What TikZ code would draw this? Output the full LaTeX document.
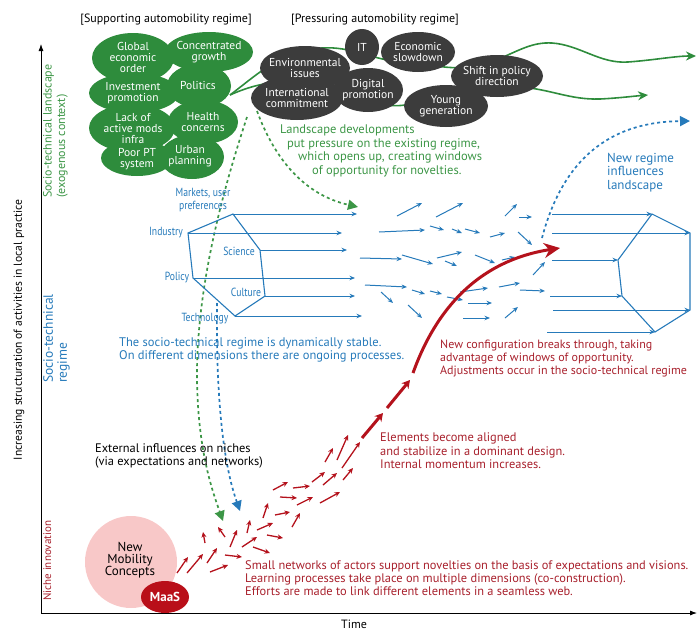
\documentclass[tikz,border=0pt]{standalone}
\usepackage{fontspec}
\setmainfont{PT Sans}
\newfontfamily\narrowfont[FakeStretch=0.82]{PT Sans}
\usetikzlibrary{arrows.meta,shapes.geometric}
\definecolor{ellgreen}{RGB}{46,140,60}
\definecolor{txtgreen}{RGB}{60,150,70}
\definecolor{dkell}{RGB}{60,60,60}
\definecolor{rblue}{RGB}{38,122,186}
\definecolor{nred}{RGB}{168,32,44}
\definecolor{arred}{RGB}{180,18,28}
\definecolor{pinkc}{RGB}{248,200,200}
\definecolor{maasred}{RGB}{185,15,25}
\begin{document}
\begin{tikzpicture}[x=1pt,y=-1pt,
  elltext/.style={text=white, align=center, inner sep=0pt, font=\fontsize{11.5}{11}\selectfont},
  axisline/.style={black, line width=0.8pt, -{Latex[length=7pt,width=5pt]}},
  barrow/.style={rblue, line width=1pt, -{Stealth[length=5.5pt,width=4.5pt]}},
  hexline/.style={rblue, line width=1.1pt},
  rarrow/.style={arred, line width=1.3pt, -{Stealth[length=5.5pt,width=5pt]}},
  bigred/.style={arred, line width=3pt, -{Stealth[length=8pt,width=9pt]}},
  gwave/.style={ellgreen, line width=1.6pt, -{Stealth[length=10pt,width=9pt]}},
  gdash/.style={txtgreen, line width=1.7pt, dash pattern=on 3pt off 3pt, -{Triangle[length=10pt,width=10pt]}},
  bdash/.style={rblue, line width=1.7pt, dash pattern=on 3pt off 3pt, -{Triangle[length=10pt,width=10pt]}},
  lbl/.style={inner sep=0pt, align=left},
]
\useasboundingbox (0,0) rectangle (697,630);

% headers
\node[lbl, font=\fontsize{12}{13}\selectfont] (hsup) at (166,20) {[Supporting automobility regime]};
\node[lbl, font=\fontsize{12}{13}\selectfont] (hpre) at (375,20) {[Pressuring automobility regime]};

% axes
\coordinate (orig) at (41,613);
\coordinate (ytop) at (41,44);
\coordinate (xend) at (697,613);
\draw[axisline] (orig) -- (ytop);
\draw[axisline] (orig) -- (xend);
\node[lbl, font=\fontsize{12}{13}\selectfont] (time) at (354,624) {Time};

% left labels
\node[lbl, rotate=90, font=\fontsize{11.6}{13}\selectfont] (ylab) at (19,330) {Increasing structuration of activities in local practice};
\node[lbl, rotate=90, anchor=north west, text=txtgreen, font=\fontsize{12}{13.5}\selectfont] (llands) at (43,198) {Socio-technical landscape\\(exogenous context)};
\node[lbl, rotate=90, anchor=north west, text=rblue, font=\fontsize{13.5}{14}\selectfont] (lreg) at (43,383) {Socio-technical\\regime};
\node[lbl, rotate=90, anchor=north west, text=nred, font=\fontsize{11}{13}\selectfont] (lniche) at (43,601) {Niche innovation};

% green wavy arrows (behind ellipses)
\coordinate (gstart) at (230,95);
\coordinate (gend1) at (696,56);
\coordinate (gend2) at (648,95);
\draw[gwave] (gstart) .. controls (258,74) and (282,50) .. (322,48)
  .. controls (352,46) and (372,60) .. (402,62)
  .. controls (432,64) and (462,74) .. (492,62)
  .. controls (520,50) and (532,42) .. (552,43)
  .. controls (580,45) and (600,64) .. (628,62)
  .. controls (655,60) and (675,56) .. (gend1);
\draw[gwave] (gstart) .. controls (250,86) and (272,80) .. (300,82)
  .. controls (340,86) and (372,110) .. (405,105)
  .. controls (440,100) and (482,84) .. (520,87)
  .. controls (550,89) and (570,100) .. (600,99)
  .. controls (620,98) and (635,96) .. (gend2);

% dark ellipses
\foreach \x/\y/\w/\h in {362/47/34/36, 418/52/74/40, 305/68/90/44, 297/98/92/44, 368/90/70/44, 497/76/92/42, 446/106/84/42}
  \fill[dkell] (\x,\y) ellipse ({\w/2} and {\h/2});
\node[elltext] (eIT) at (362,47) {IT};
\node[elltext] (eEco) at (418,52) {Economic\\slowdown};
\node[elltext] (eEnv) at (305,68) {Environmental\\issues};
\node[elltext] (eInt) at (297,98) {International\\commitment};
\node[elltext] (eDig) at (368,90) {Digital\\promotion};
\node[elltext] (eShi) at (497,76) {Shift in policy\\direction};
\node[elltext] (eYou) at (446,106) {Young\\generation};

% green ellipses
\foreach \x/\y/\w/\h in {133/58/82/50, 209/52/88/40, 134/93/90/40, 199/86/64/44, 132/128/86/48, 203/122/70/44, 137/158/72/36, 192/157/64/44}
  \fill[ellgreen] (\x,\y) ellipse ({\w/2} and {\h/2});
\node[elltext] (gGlo) at (133,57) {Global\\economic\\order};
\node[elltext] (gCon) at (209,52) {Concentrated\\growth};
\node[elltext] (gInv) at (133,93) {Investment\\promotion};
\node[elltext] (gPol) at (198,85) {Politics};
\node[elltext] (gLac) at (133,128) {Lack of\\active mods\\infra};
\node[elltext] (gHea) at (203,122) {Health\\concerns};
\node[elltext] (gPoo) at (137,159) {Poor PT\\system};
\node[elltext] (gUrb) at (190,156) {Urban\\planning};

% green dashed arrows
\coordinate (gd1s) at (247,117);
\coordinate (gd1e) at (223,521);
\draw[gdash] (gd1s) .. controls (228,175) and (196,280) .. (197,380) .. controls (198,450) and (212,490) .. (gd1e);
\coordinate (gd2s) at (257,111);
\coordinate (gd2e) at (358,207);
\draw[gdash] (gd2s) .. controls (275,160) and (305,195) .. (gd2e);

% landscape text
\node[lbl, anchor=north west, text=txtgreen, font=\fontsize{12.5}{13.5}\selectfont] (tland) at (280,125)
 {Landscape developments\\\hspace*{7pt}put pressure on the existing regime,\\\hspace*{18pt}which opens up, creating windows\\\hspace*{32pt}of opportunity for novelties.};

% blue dashed arrows
\coordinate (bd1s) at (217,303);
\coordinate (bd1e) at (240,511);
\draw[bdash] (bd1s) .. controls (216,390) and (222,460) .. (bd1e);
\coordinate (bd2s) at (542,238);
\coordinate (bd2e) at (690,121);
\draw[bdash] (bd2s) .. controls (560,170) and (600,122) .. (bd2e);
\node[lbl, anchor=north west, text=rblue, font=\fontsize{13}{13.5}\selectfont] (tnew) at (607,153) {New regime\\influences\\landscape};

% left hexagon
\coordinate (hm) at (233,214);
\coordinate (hi) at (188,233);
\coordinate (hs) at (260,250);
\coordinate (hp) at (193,278);
\coordinate (hc) at (265,296);
\coordinate (ht) at (235,316);
\draw[hexline] (hi) -- (hm) -- (hs) -- (hc) -- (ht) -- (hp) -- cycle;
\coordinate (em) at (357,214);
\coordinate (ei) at (342,233);
\coordinate (es) at (347,250);
\coordinate (ep) at (355,278);
\coordinate (ec) at (355,296);
\coordinate (et) at (362,316);
\draw[barrow] (hm) -- (em);
\draw[barrow] (hi) -- (ei);
\draw[barrow] (hs) -- (es);
\draw[barrow] (hp) -- (ep);
\draw[barrow] (hc) -- (ec);
\draw[barrow] (ht) -- (et);
\begin{scope}[every node/.style={lbl, text=rblue, align=center, font=\narrowfont\fontsize{11.8}{13}\selectfont}]
\node (lmar) at (203,200) {Markets, user\\preferences};
\node (lind) at (166,233) {Industry};
\node (lsci) at (239,251) {Science};
\node (lpol) at (177,278) {Policy};
\node (lcul) at (246,292) {Culture};
\node (ltec) at (205,319) {Technology};
\end{scope}

% scattered blue arrows
\foreach \a/\b/\c/\d in {397/216/422/203, 436/217/463/203, 505/216/517/204, 519/217/532/217,
  379/232/425/230, 430/226/444/230, 452/229/462/233, 465/229/480/233, 490/237/505/233, 518/232/532/245,
  360/258/402/259, 402/255/433/264, 437/258/462/252, 445/261/457/266, 475/255/495/263, 502/260/515/257, 533/275/545/262,
  365/285/407/287, 381/292/393/303, 412/290/425/294, 430/291/442/294, 447/297/463/300, 460/292/488/288,
  499/287/520/283, 520/290/545/291, 468/303/492/303, 408/305/422/318, 463/318/490/318, 505/318/518/307}
  \draw[barrow] (\a,\b) -- (\c,\d);

% right hexagon
\coordinate (r1) at (652,214);
\coordinate (r2) at (690,233);
\coordinate (r3) at (690,310);
\coordinate (r4) at (655,332);
\coordinate (r5) at (622,296);
\coordinate (r6) at (618,260);
\draw[hexline] (r1) -- (r2) -- (r3) -- (r4) -- (r5) -- (r6) -- cycle;
\coordinate (s1) at (552,214);
\coordinate (s2) at (552,233);
\coordinate (s3) at (552,260);
\coordinate (s4) at (550,296);
\coordinate (s5) at (553,310);
\coordinate (s6) at (547,332);
\draw[barrow] (s1) -- (r1);
\draw[barrow] (s2) -- (r2);
\draw[barrow] (s3) -- (r6);
\draw[barrow] (s4) -- (r5);
\draw[barrow] (s5) -- (r3);
\draw[barrow] (s6) -- (r4);

% regime text
\node[lbl, anchor=north west, text=rblue, font=\fontsize{12.5}{13}\selectfont] (treg) at (119,337) {The socio-technical regime is dynamically stable.\\On different dimensions there are ongoing processes.};

% niche circles
\fill[pinkc] (131,562) circle (46);
\node[lbl, align=center, font=\fontsize{13}{12}\selectfont] (tnmc) at (130,560) {New\\Mobility\\Concepts};
\fill[maasred] (165,597) ellipse (24 and 16);
\node[lbl, text=white, font=\bfseries\fontsize{13}{13}\selectfont] (tmaas) at (165,597) {MaaS};

% small red arrows
\foreach \a/\b/\c/\d in {177/573/188/557, 187/573/203/554, 207/563/217/548, 210/572/228/565, 225/555/242/557,
  205/543/203/532, 225/537/218/527, 230/547/237/530, 242/547/257/537, 247/533/250/520, 253/547/270/553,
  267/535/283/538, 257/530/273/523, 263/518/268/503, 275/515/290/512, 292/527/300/513,
  273/490/288/482, 280/497/297/498, 293/488/310/486, 297/505/313/497, 312/482/325/472, 323/485/337/473,
  320/503/340/492, 325/462/333/448, 337/460/348/435, 342/468/360/442, 343/480/353/468}
  \draw[rarrow] (\a,\b) -- (\c,\d);

% big red arrow
\coordinate (rb1) at (362,438);
\coordinate (rb2) at (383,413);
\coordinate (rb3) at (387,408);
\coordinate (rb4) at (410,380);
\coordinate (rb5) at (413,373);
\coordinate (rb6) at (560,248);
\draw[bigred] (rb1) -- (rb2);
\draw[bigred] (rb3) -- (rb4);
\draw[bigred, -{Stealth[length=16pt,width=15pt]}] (rb5) .. controls (432,320) and (470,262) .. (rb6);

% red texts
\node[lbl, anchor=north west, text=nred, font=\fontsize{12}{13}\selectfont] (tcfg) at (440,340) {New configuration breaks through, taking\\advantage of windows of opportunity.\\Adjustments occur in the socio-technical regime};
\node[lbl, anchor=north west, text=nred, font=\fontsize{12.4}{13.5}\selectfont] (tali) at (380,433) {Elements become aligned\\and stabilize in a dominant design.\\Internal momentum increases.};
\node[lbl, anchor=north west, text=nred, font=\fontsize{12.4}{13}\selectfont] (tsma) at (245,560) {Small networks of actors support novelties on the basis of expectations and visions.\\Learning processes take place on multiple dimensions (co-construction).\\Efforts are made to link different elements in a seamless web.};
\node[lbl, anchor=north west, font=\fontsize{12.4}{13.5}\selectfont] (text) at (95,443) {External influences on niches\\(via expectations and networks)};
\end{tikzpicture}
\end{document}
